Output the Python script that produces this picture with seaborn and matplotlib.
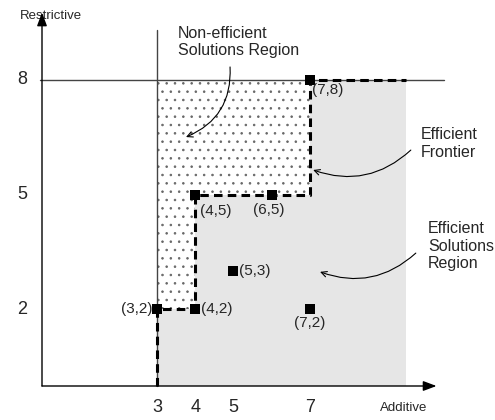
import matplotlib
matplotlib.use("Agg")
import matplotlib.pyplot as plt
from matplotlib.patches import Polygon
import pandas as pd
import seaborn as sns

# data
x_ticks = [3, 4, 5, 7]
y_ticks = [2, 5, 8]
frontier_x = [3, 3, 4, 4, 7, 7, 9.5]
frontier_y = [0, 2, 2, 5, 5, 8, 8]
pts_x = [3, 4, 4, 6, 7, 5, 7]
pts_y = [2, 2, 5, 5, 8, 3, 2]
pts_lbl = ["(3,2)", "(4,2)", "(4,5)", "(6,5)", "(7,8)", "(5,3)", "(7,2)"]
nonefficient_x = [3, 4, 4, 7, 7, 3]
nonefficient_y = [2, 2, 5, 5, 8, 8]

sns.set_style("white")
plt.rcParams["font.family"] = ["Liberation Sans", "DejaVu Sans"]
plt.rcParams["hatch.color"] = "#666666"
plt.rcParams["hatch.linewidth"] = 0.6

fig = plt.figure(figsize=(4.95, 4.2), dpi=100)
ax = fig.add_axes([0, 0, 1, 1])
ax.set_xlim(-42 / 38.3, (495 - 42) / 38.3)
ax.set_ylim(-34 / 38.3, 386 / 38.3)
ax.axis("off")

# regions
ax.fill_between([3, 9.5], 0, 8, color="#e6e6e6", lw=0, zorder=1)
ax.add_patch(Polygon(list(zip(nonefficient_x, nonefficient_y)), closed=True,
                     facecolor="white", hatch="..", edgecolor="#666666", lw=0, zorder=2))

# guide lines and axes
ax.plot([-0.05, 10.5], [8, 8], color="#444444", lw=1, zorder=3)
ax.plot([3, 3], [0, 9.3], color="#444444", lw=1, zorder=3)
ax.annotate("", xy=(0, 9.75), xytext=(0, 0),
            arrowprops=dict(arrowstyle="-|>,head_length=0.8,head_width=0.3", color="black", lw=1,
                            shrinkA=0, shrinkB=0), zorder=4)
ax.annotate("", xy=(10.3, 0), xytext=(0, 0),
            arrowprops=dict(arrowstyle="-|>,head_length=0.8,head_width=0.3", color="black", lw=1,
                            shrinkA=0, shrinkB=0), zorder=4)

# frontier
ax.plot(frontier_x, frontier_y, color="black", lw=2.2, ls=(0, (2.8, 1.7)), zorder=5)

df = pd.DataFrame({"x": pts_x, "y": pts_y, "lbl": pts_lbl})
sns.scatterplot(data=df, x="x", y="y", marker="s", s=42, color="black",
                edgecolor="black", linewidth=0, ax=ax, zorder=6, legend=False)

offsets = {
    "(3,2)": ((-3, 0), "right", "center"),
    "(4,2)": ((4, 0), "left", "center"),
    "(4,5)": ((3.5, -12), "left", "center"),
    "(6,5)": ((-2, -11), "center", "center"),
    "(7,8)": ((1.5, -7.5), "left", "center"),
    "(5,3)": ((4, 0), "left", "center"),
    "(7,2)": ((0, -10), "center", "center"),
}
for _, r in df.iterrows():
    off, ha, va = offsets[r["lbl"]]
    ax.annotate(r["lbl"], (r["x"], r["y"]), xytext=off, textcoords="offset points",
                ha=ha, va=va, fontsize=11, zorder=7)

# tick labels
for t in x_ticks:
    ax.text(t, -0.57, str(t), ha="center", va="center", fontsize=13)
for t in y_ticks:
    ax.text(-0.52, t, str(t), ha="center", va="center", fontsize=13)

ax.text(0.23, 9.66, "Restrictive", ha="center", va="center", fontsize=9.5)
ax.text(9.44, -0.57, "Additive", ha="center", va="center", fontsize=9.5)

# annotations
ax.text(3.55, 9.4, "Non-efficient\nSolutions Region", ha="left", va="top", fontsize=11.5, linespacing=1.2)
ax.annotate("", xy=(3.76, 6.5), xytext=(4.91, 8.33),
            arrowprops=dict(arrowstyle="->", color="black", lw=0.8,
                            connectionstyle="arc3,rad=-0.35", shrinkA=0, shrinkB=0))
ax.text(9.9, 6.75, "Efficient\nFrontier", ha="left", va="top", fontsize=11.5, linespacing=1.2)
ax.annotate("", xy=(7.08, 5.64), xytext=(9.63, 6.16),
            arrowprops=dict(arrowstyle="->", color="black", lw=0.8,
                            connectionstyle="arc3,rad=-0.3", shrinkA=0, shrinkB=0))
ax.text(10.08, 4.3, "Efficient\nSolutions\nRegion", ha="left", va="top", fontsize=11.5, linespacing=1.2)
ax.annotate("", xy=(7.26, 2.98), xytext=(9.76, 3.47),
            arrowprops=dict(arrowstyle="->", color="black", lw=0.8,
                            connectionstyle="arc3,rad=-0.3", shrinkA=0, shrinkB=0))

fig.savefig("out.png", dpi=100)
